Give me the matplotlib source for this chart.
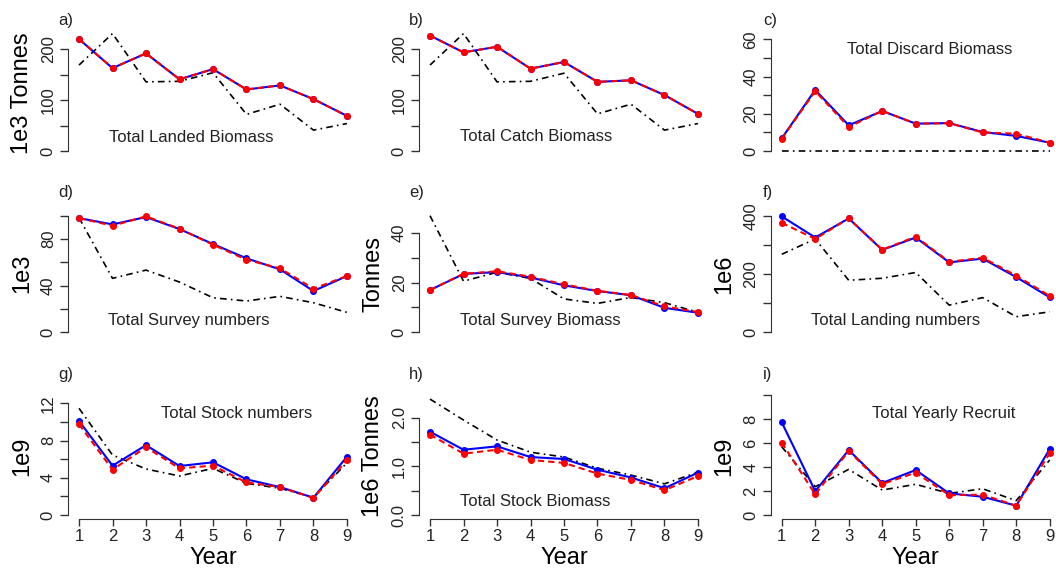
import matplotlib
matplotlib.use("Agg")
import matplotlib.pyplot as plt
import numpy as np

plt.rcParams['font.family'] = ['Liberation Sans', 'DejaVu Sans']

W, H = 1056, 568

year = [1, 2, 3, 4, 5, 6, 7, 8, 9]

# blue (solid), red (dashed), black (dot-dash) series for each panel
landed_blue = [220, 163, 192, 141, 161, 121, 129, 102, 69]
landed_red = [220, 163, 192, 141, 161, 121, 129, 102, 69]
landed_black = [169, 231, 136, 137, 154, 72, 92, 41, 54]

catch_blue = [227, 194, 205, 162, 175, 136, 139, 110, 73]
catch_red = [227, 194, 205, 162, 175, 136, 139, 110, 73]
catch_black = [169, 231, 136, 137, 153, 73, 92, 41, 54]

discard_blue = [6.8, 32.8, 13.8, 21.5, 14.7, 15.0, 10.2, 8.1, 4.5]
discard_red = [6.6, 32.1, 12.9, 21.5, 14.7, 14.9, 10.0, 9.3, 4.5]
discard_black = [0, 0, 0, 0, 0, 0, 0, 0, 0]

svnum_blue = [98.0, 92.6, 98.9, 88.6, 75.7, 63.4, 53.9, 35.3, 48.2]
svnum_red = [98.0, 91.5, 99.5, 88.9, 75.1, 62.2, 54.8, 37.3, 48.2]
svnum_black = [98.3, 46.2, 53.3, 43.0, 29.5, 26.7, 30.7, 25.2, 16.9]

svbio_blue = [17.0, 23.5, 24.3, 22.1, 18.9, 16.6, 14.9, 9.8, 7.8]
svbio_red = [17.0, 23.6, 24.6, 22.4, 19.3, 16.7, 15.0, 10.4, 8.1]
svbio_black = [47.1, 20.6, 24.2, 21.7, 13.4, 11.6, 14.0, 11.9, 8.0]

landnum_blue = [400, 327, 393, 284, 327, 241, 254, 190, 120]
landnum_red = [378, 322, 393, 285, 330, 243, 257, 195, 125]
landnum_black = [269, 322, 179, 186, 206, 93, 119, 53, 70]

stnum_blue = [10.1, 5.3, 7.5, 5.26, 5.66, 3.83, 3.0, 1.86, 6.27]
stnum_red = [9.74, 4.87, 7.27, 5.01, 5.3, 3.5, 3.0, 1.83, 5.9]
stnum_black = [11.46, 6.44, 4.94, 4.19, 5.01, 3.4, 2.87, 1.9, 5.6]

stbio_blue = [1.71, 1.34, 1.41, 1.19, 1.15, 0.93, 0.77, 0.55, 0.87]
stbio_red = [1.65, 1.26, 1.34, 1.13, 1.07, 0.85, 0.72, 0.51, 0.80]
stbio_black = [2.38, 1.95, 1.54, 1.29, 1.19, 0.96, 0.82, 0.64, 0.88]

recr_blue = [7.75, 2.0, 5.43, 2.68, 3.76, 1.81, 1.53, 0.78, 5.52]
recr_red = [6.05, 1.73, 5.35, 2.59, 3.54, 1.67, 1.70, 0.78, 5.16]
recr_black = [5.71, 2.37, 3.82, 2.09, 2.57, 1.81, 2.2, 1.2, 4.6]

panels = [
    ("a)", "1e3 Tonnes", "Total Landed Biomass", landed_blue, landed_red, landed_black),
    ("b)", "", "Total Catch Biomass", catch_blue, catch_red, catch_black),
    ("c)", "", "Total Discard Biomass", discard_blue, discard_red, discard_black),
    ("d)", "1e3", "Total Survey numbers", svnum_blue, svnum_red, svnum_black),
    ("e)", "Tonnes", "Total Survey Biomass", svbio_blue, svbio_red, svbio_black),
    ("f)", "1e6", "Total Landing numbers", landnum_blue, landnum_red, landnum_black),
    ("g)", "1e9", "Total Stock numbers", stnum_blue, stnum_red, stnum_black),
    ("h)", "1e6 Tonnes", "Total Stock Biomass", stbio_blue, stbio_red, stbio_black),
    ("i)", "1e9", "Total Yearly Recruit", recr_blue, recr_red, recr_black),
]

# axis settings per panel: ylim, ticks, labelled ticks
ylims = [(-8.9, 237), (-8.9, 237), (-2.4, 64.7),
         (-3.4, 103.7), (-1.6, 48.8), (-13.8, 417),
         (-0.43, 13.05), (-0.082, 2.495), (-0.33, 10.16)]
yticks = [np.arange(0, 201, 50), np.arange(0, 201, 50), np.arange(0, 61, 10),
          np.arange(0, 101, 20), np.arange(0, 41, 10), np.arange(0, 401, 100),
          np.arange(0, 13, 2), np.arange(0, 2.01, 0.5), np.arange(0, 11, 2)]
ylabels = [["0", "", "100", "", "200"], ["0", "", "100", "", "200"],
           ["0", "", "20", "", "40", "", "60"],
           ["0", "", "40", "", "80", ""], ["0", "", "20", "", "40"],
           ["0", "", "200", "", "400"],
           ["0", "", "4", "", "8", "", "12"], ["0.0", "", "1.0", "", "2.0"],
           ["0", "2", "4", "6", "8", ""]]
note_pos = [(0.424, 0.144), (0.403, 0.148), (0.548, 0.85),
            (0.417, 0.128), (0.417, 0.128), (0.432, 0.128),
            (0.583, 0.842), (0.40, 0.138), (0.598, 0.842)]

col_left = [68.3, 419.3, 771.0]
col_w = 289.4
row_top = [30.5, 211.5, 393.5]
row_bot = [155.5, 336.0, 519.0]
title_x = [58, 409, 763]
title_y = [20, 192, 375]
ylab_x = [22, 373, 724.5]

fig = plt.figure(figsize=(W / 100, H / 100), dpi=100)

dotdash = (0, (4, 2.5, 1, 2.5))

for k, (tag, ylab, note, blue, red, black) in enumerate(panels):
    r, c = divmod(k, 3)
    x0, y0 = col_left[c], row_top[r]
    h = row_bot[r] - row_top[r]
    ax = fig.add_axes([x0 / W, 1 - row_bot[r] / H, col_w / W, h / H])
    ax.patch.set_alpha(0)

    ax.plot(year, black, color="black", lw=1.2, linestyle=dotdash)
    ax.plot(year, blue, color="#0000ff", lw=1.5, marker="o", ms=4)
    ax.plot(year, red, color="#ff0000", lw=1.5, linestyle=(0, (3, 2)),
            marker="o", ms=4)

    ax.set_xlim(0.68, 9.32)
    ax.set_ylim(*ylims[k])
    for s in ["top", "right"]:
        ax.spines[s].set_visible(False)
    ax.spines["left"].set_bounds(yticks[k][0], yticks[k][-1])
    ax.spines["left"].set_color("#333333")
    ax.set_yticks(yticks[k])
    ax.set_yticklabels(ylabels[k])
    ax.tick_params(axis="y", labelrotation=90, labelsize=12, length=6,
                   width=1, pad=3, colors="#333333", labelcolor="#222222")
    for t in ax.get_yticklabels():
        t.set_va("center")

    if r == 2:
        ax.spines["bottom"].set_bounds(1, 9)
        ax.spines["bottom"].set_color("#333333")
        ax.set_xticks(year)
        ax.tick_params(axis="x", labelsize=12, length=5, width=1, pad=2,
                       colors="#333333", labelcolor="#222222")
        ax.set_xlabel("Year", fontsize=17, labelpad=2)
    else:
        ax.spines["bottom"].set_visible(False)
        ax.set_xticks([])

    if ylab:
        ax.set_ylabel(ylab, fontsize=17)
        ax.yaxis.label.set_va("center")
        ax.yaxis.set_label_coords((ylab_x[c] - x0) / col_w, 0.5)

    ax.text(note_pos[k][0], note_pos[k][1], note, transform=ax.transAxes,
            ha="center", va="center", fontsize=12, color="#222222")
    fig.text(title_x[c] / W, 1 - title_y[r] / H, tag, ha="left", va="center",
             fontsize=12, color="#222222")

fig.savefig("out.png", dpi=100)
